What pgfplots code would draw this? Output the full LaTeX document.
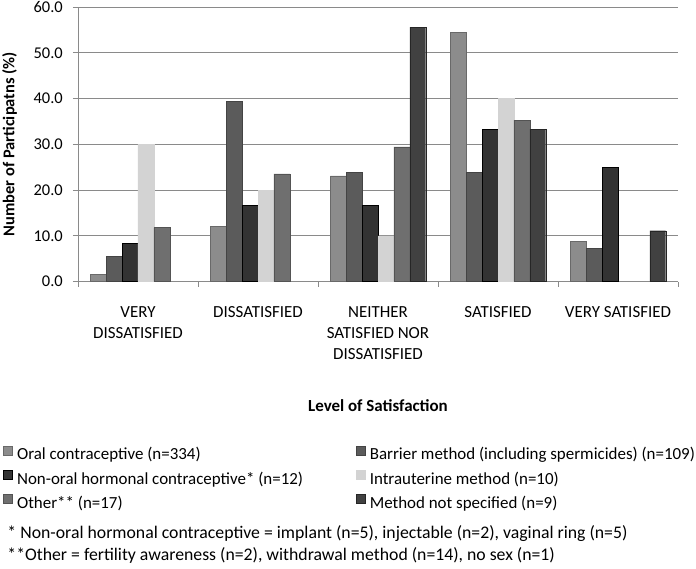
\documentclass[border=0pt]{standalone}
\usepackage{fontspec}
\setmainfont{Carlito}
\usepackage{pgfplots}
\pgfplotsset{compat=1.18}
\definecolor{cOral}{HTML}{8C8C8C}
\definecolor{cBarr}{HTML}{5B5B5B}
\definecolor{cNon}{HTML}{333333}
\definecolor{cIUD}{HTML}{D3D3D3}
\definecolor{cOth}{HTML}{6F6F6F}
\definecolor{cNS}{HTML}{414141}
\definecolor{cGrid}{HTML}{8A8A8A}
\begin{document}
\begin{tikzpicture}
\begin{axis}[
  name=ax,
  scale only axis, width=600bp, height=274.5bp,
  ybar=0pt, bar width=15.9bp,
  xmin=-0.5, xmax=4.5, ymin=0, ymax=60,
  axis lines*=left,
  axis line style={cGrid, line width=0.8bp},
  xtick={0,1,2,3,4},
  xticklabels={VERY\\DISSATISFIED, DISSATISFIED, NEITHER\\SATISFIED NOR\\DISSATISFIED, SATISFIED, VERY SATISFIED},
  x tick label style={align=center, font=\fontsize{17}{21}\selectfont, anchor=north, inner sep=0pt, yshift=-20bp},
  major x tick style={draw=none},
  minor xtick={-0.5,0.5,1.5,2.5,3.5,4.5},
  minor x tick style={cGrid, line width=0.8bp},
  minor tick length=5bp,
  major tick length=5bp,
  tick align=outside,
  ytick={0,10,...,60},
  major y tick style={cGrid, line width=0.8bp},
  ymajorgrids, grid style={cGrid, line width=0.9bp},
  y tick label style={font=\fontsize{16.5}{18}\selectfont, anchor=east, inner sep=0pt, xshift=-10bp, /pgf/number format/.cd, fixed, fixed zerofill, precision=1, assume math mode=true},
  ylabel={Number of Participatns (\%)},
  ylabel style={font=\bfseries\fontsize{16.5}{18}\selectfont, at={([xshift=-68.5bp]rel axis cs:0,0.5)}, anchor=center},
  xlabel={Level of Satisfaction},
  xlabel style={font=\bfseries\fontsize{17}{18}\selectfont, at={([yshift=-124bp]rel axis cs:0.5,0)}, anchor=center},
  legend columns=2,
  legend cell align=left,
  legend style={draw=none, fill=none, at={(axis description cs:0,0)}, anchor=north west,
    xshift=-75.3bp, yshift=-164bp, font=\fontsize{17}{18}\selectfont, inner sep=0pt,
    nodes={inner sep=0pt, text height=12bp, text depth=4bp},
    row sep=6bp,
    /tikz/every odd column/.style={column sep=4.7bp}},
  legend image code/.code={\fill[#1] (0bp,1bp) rectangle (9bp,10bp);},
]
\addplot[fill=cOral, draw=cOral!75!black, line width=0.4bp] coordinates {(0,1.5) (1,12.0) (2,23.1) (3,54.4) (4,8.8)};
\addplot[fill=cBarr, draw=cBarr!75!black, line width=0.4bp] coordinates {(0,5.5) (1,39.4) (2,23.9) (3,23.9) (4,7.3)};
\addplot[fill=cNon, draw=black, line width=0.5bp] coordinates {(0,8.3) (1,16.7) (2,16.7) (3,33.3) (4,25.0)};
\addplot[fill=cIUD, draw=cIUD, line width=0.4bp] coordinates {(0,30.0) (1,20.0) (2,10.0) (3,40.0)};
\addplot[fill=cOth, draw=cOth!75!black, line width=0.4bp] coordinates {(0,11.8) (1,23.5) (2,29.4) (3,35.3)};
\addplot[fill=cNS, draw=black!85, line width=0.4bp] coordinates {(2,55.6) (3,33.3) (4,11.1)};
\legend{\makebox[338.6bp][l]{Oral contraceptive (n=334)}, Barrier method (including spermicides) (n=109),
  \makebox[338.6bp][l]{Non-oral hormonal contraceptive* (n=12)}, Intrauterine method (n=10),
  \makebox[338.6bp][l]{Other** (n=17)}, Method not specified (n=9)}
\end{axis}
\node[anchor=base west, font=\fontsize{17.8}{18}\selectfont, inner sep=0pt] at ([shift={(-70.7bp,-257bp)}]ax.south west) {* Non-oral hormonal contraceptive = implant (n=5), injectable (n=2), vaginal ring (n=5)};
\node[anchor=base west, font=\fontsize{17.8}{18}\selectfont, inner sep=0pt] at ([shift={(-70.7bp,-279bp)}]ax.south west) {**Other = fertility awareness (n=2), withdrawal method (n=14), no sex (n=1)};
\pgfresetboundingbox
\path[use as bounding box] ([shift={(-78bp,-287.5bp)}]ax.south west) rectangle ++(696bp,569bp);
\end{tikzpicture}
\end{document}
